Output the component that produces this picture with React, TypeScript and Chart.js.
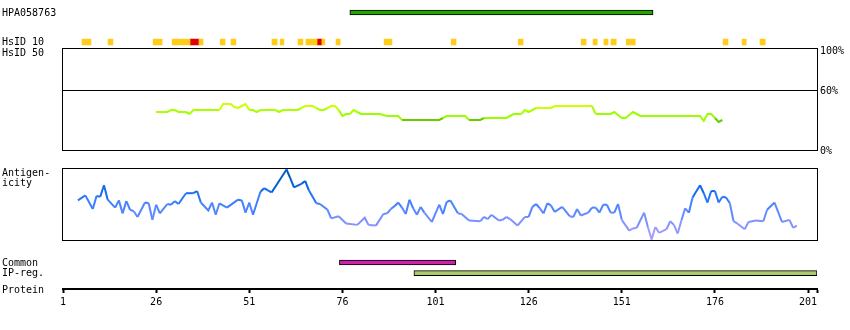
import React, { useEffect, useRef } from 'react';
import { Chart, registerables } from 'chart.js';

Chart.register(...registerables);

const FONT = '"DejaVu Sans Mono", monospace';

// ---- shared residue axis ----
const axisMin = 1;
const axisMax = 203.4;
const tickValues = [1, 26, 51, 76, 101, 126, 151, 176, 201];
const tickLabels = ['1', '26', '51', '76', '101', '126', '151', '176', '201'];

// ---- HPA antigen fragment ----
const hpaRange: [number, number] = [78, 159.4];

// ---- HsID 10 hits (residue ranges) ----
const hsid10Yellow: [number, number][] = [
  [6.1, 8.5], [13.1, 14.4], [25.2, 27.6], [30.3, 35.1], [37.5, 38.6], [43.2, 44.5],
  [46.1, 47.4], [57.1, 58.5], [59.3, 60.3], [64.1, 65.4], [66.2, 69.2], [70.5, 71.3],
  [74.3, 75.4], [87.2, 89.3], [105.2, 106.5], [123.2, 124.5], [140.1, 141.4],
  [143.3, 144.4], [146.2, 147.3], [148.1, 149.5], [152.2, 154.6], [178.2, 179.5],
  [183.3, 184.4], [188.1, 189.5],
];
const hsid10Red: [number, number][] = [[35.1, 37.5], [69.2, 70.5]];

// ---- HsID 50 identity (%) per residue, starting at residue 26 ----
const hsid50Start = 26;
const hsid50Values = [
  38, 38, 38, 38, // 26-29
  40, 40, // 30-31
  38, 38, 38, // 32-34
  36, // 35
  40, 40, 40, 40, 40, 40, 40, 40, // 36-43
  46, 46, 46, // 44-46
  43, 42, 44, 46, // 47-50
  40, 40, // 51-52
  38, // 53
  40, 40, 40, 40, 40, // 54-58
  38, // 59
  40, 40, 40, 40, 40, // 60-64
  42, 44, 44, 44, // 65-68
  42, 40, 40, // 69-71
  42, 44, 44, // 72-74
  40, 34, // 75-76
  36, 36, // 77-78
  40, 38, // 79-80
  36, 36, 36, 36, 36, 36, // 81-86
  35, // 87
  34, 34, 34, 34, // 88-91
  30, 30, 30, 30, 30, 30, 30, 30, 30, 30, 30, // 92-102
  32, // 103
  34, 34, 34, 34, 34, 34, // 104-109
  30, 30, 30, 30, // 110-113
  32, 32, 32, 32, 32, 32, 32, // 114-120
  34, 36, 36, 36, // 121-124
  40, 38, 40, // 125-127
  42, 42, 42, 42, 42, // 128-132
  44, 44, 44, 44, 44, 44, 44, 44, 44, 44, 44, // 133-143
  36, 36, 36, 36, 36, // 144-148
  38, 35, 32, 32, 35, 38, 36, // 149-155
  34, 34, 34, 34, 34, 34, 34, 34, 34, 34, 34, 34, 34, 34, 34, 34, 34, // 156-172
  29, 36, 36, 32, 28, 30, // 173-178
];
const pctTicks = [0, 60, 100];
const pctLabels = ['0%', '60%', '100%'];

// ---- Antigenicity (relative score 0-100) ----
const antigenResidues = [
  5, 7, 9, 10, 11, 12, 13, 15, 16, 17, 18, 19, 20, 21, 23, 24, 25, 26, 27, 29, 30, 31, 32,
  34, 36, 37, 38, 40, 41, 42, 43, 45, 48, 49, 50, 51, 52, 54, 55, 56, 57, 61, 62, 63, 65,
  66, 67, 69, 70, 72, 73, 75, 77, 80, 82, 83, 85, 87, 88, 89, 90, 91, 92, 93, 94, 95, 96,
  97, 98, 100, 102, 103, 104, 105, 107, 108, 110, 113, 114, 115, 116, 118, 119, 120, 121,
  123, 125, 126, 127, 128, 129, 130, 131, 132, 133, 135, 137, 138, 139, 140, 142, 143, 144,
  145, 146, 147, 148, 149, 150, 151, 153, 154, 155, 157, 158, 159, 160, 161, 163, 164, 165,
  166, 167, 168, 169, 170, 172, 173, 174, 175, 176, 177, 178, 179, 180, 181, 182, 184, 185,
  187, 189, 190, 192, 194, 196, 197, 198,
];
const antigenValues = [
  55, 62, 43, 61, 60, 76, 56, 45, 55, 37, 54, 42, 40, 32, 52, 51, 28, 49, 37, 50, 49, 54, 50,
  65, 65, 68, 52, 41, 52, 35, 51, 45, 56, 55, 38, 52, 35, 67, 72, 69, 66, 98, 86, 73, 78,
  82, 69, 51, 50, 42, 30, 33, 23, 21, 31, 21, 20, 36, 37, 43, 47, 52, 45, 36, 56, 44, 35,
  46, 38, 25, 49, 36, 53, 55, 37, 36, 27, 26, 32, 29, 35, 27, 28, 32, 29,
  20, 32, 32, 46, 50, 44, 37, 51, 48, 39, 46, 33, 32, 43, 34, 38, 45, 45,
  38, 49, 49, 38, 38, 50, 28, 13, 16, 17, 38, 18, 1, 18, 10, 15, 26, 21,
  9, 27, 44, 38, 59, 76, 65, 52, 68, 68, 52, 60, 59, 51, 26, 23, 15, 25,
  27, 26, 42, 52, 25, 28, 17, 20,
];

// ---- Common / IP-reg. ----
const commonRange: [number, number] = [75.2, 106.4];
const ipRegRange: [number, number] = [95.2, 203.4];

// ---- colour helpers ----
function hsid50Color(v: number): string {
  if (v <= 31) return '#66cc00';
  if (v < 38) return '#99ff00';
  if (v < 42) return '#aaff00';
  return '#ccff00';
}
const antigenStops: [number, number[]][] = [
  [0, [184, 166, 255]],
  [20, [140, 148, 255]],
  [35, [104, 140, 255]],
  [50, [64, 128, 255]],
  [65, [24, 110, 240]],
  [80, [0, 96, 214]],
  [100, [0, 80, 176]],
];
function antigenColor(v: number): string {
  for (let i = 1; i < antigenStops.length; i++) {
    const [v1, c1] = antigenStops[i];
    const [v0, c0] = antigenStops[i - 1];
    if (v <= v1) {
      const t = Math.max(0, (v - v0) / (v1 - v0));
      const c = c0.map((a, k) => Math.round(a + (c1[k] - a) * t));
      return `rgb(${c[0]},${c[1]},${c[2]})`;
    }
  }
  return 'rgb(0,80,176)';
}

const boxPlugin = {
  id: 'boxFrame',
  beforeDatasetsDraw(chart: any) {
    const { ctx, chartArea: a } = chart;
    ctx.save();
    ctx.strokeStyle = '#000';
    ctx.lineWidth = 1;
    ctx.strokeRect(a.left - 0.5, a.top + 0.5, a.right - a.left + 1, a.bottom - a.top);
    ctx.restore();
  },
};

const hiddenX = { type: 'linear', min: axisMin, max: axisMax, display: false };
const basePlugins = { legend: { display: false }, tooltip: { enabled: false } };

function topConfig(): any {
  return {
    type: 'bar',
    data: {
      labels: ['HPA', 'gap', 'HsID 10'],
      datasets: [
        {
          data: [{ x: hpaRange, y: 'HPA' }],
          backgroundColor: '#22a300', borderColor: '#000', borderWidth: 1,
          borderSkipped: false, barThickness: 5, grouped: false,
        },
        {
          data: hsid10Yellow.map((r) => ({ x: r, y: 'HsID 10' })),
          backgroundColor: '#ffcc1a', borderWidth: 0, barThickness: 6, grouped: false,
        },
        {
          data: hsid10Red.map((r) => ({ x: r, y: 'HsID 10' })),
          backgroundColor: '#dd0000', borderWidth: 0, barThickness: 6, grouped: false,
        },
      ],
    },
    options: {
      indexAxis: 'y', animation: false, responsive: false, events: [],
      layout: { padding: { left: 63, right: 33, top: 5.125, bottom: 280.625 } },
      scales: { x: hiddenX, y: { type: 'category', display: false } },
      plugins: basePlugins,
    },
  };
}

function hsid50Config(): any {
  return {
    type: 'line',
    data: {
      datasets: [
        {
          data: hsid50Values.map((v, i) => ({ x: hsid50Start + i, y: v })),
          borderWidth: 2, pointRadius: 0, tension: 0, borderColor: '#aaff00',
          segment: { borderColor: (c: any) => hsid50Color((c.p0.parsed.y + c.p1.parsed.y) / 2) },
        },
      ],
    },
    options: {
      animation: false, responsive: false, events: [],
      layout: { padding: { left: 63, right: 0, top: 48, bottom: 180 } },
      scales: {
        x: hiddenX,
        y: {
          position: 'right', min: 0, max: 102,
          afterBuildTicks: (s: any) => { s.ticks = pctTicks.map((v) => ({ value: v })); },
          afterFit: (s: any) => { s.width = 33; },
          border: { display: false },
          grid: {
            drawTicks: false, lineWidth: 1,
            color: (c: any) => (c.tick && c.tick.value === 60 ? '#000' : 'rgba(0,0,0,0)'),
          },
          ticks: {
            padding: 3, labelOffset: 1, color: '#000', font: { family: FONT, size: 10 },
            callback: (_v: any, i: number) => pctLabels[i],
          },
        },
      },
      plugins: basePlugins,
    },
    plugins: [boxPlugin],
  };
}

function antigenConfig(): any {
  return {
    type: 'line',
    data: {
      datasets: [
        {
          data: antigenResidues.map((r, i) => ({ x: r, y: antigenValues[i] })),
          borderWidth: 2, pointRadius: 0, tension: 0, borderColor: '#4080ff',
          segment: { borderColor: (c: any) => antigenColor((c.p0.parsed.y + c.p1.parsed.y) / 2) },
        },
      ],
    },
    options: {
      animation: false, responsive: false, events: [],
      layout: { padding: { left: 63, right: 33, top: 168, bottom: 90 } },
      scales: { x: hiddenX, y: { min: 0, max: 100, display: false } },
      plugins: basePlugins,
    },
    plugins: [boxPlugin],
  };
}

function bottomConfig(): any {
  return {
    type: 'bar',
    data: {
      labels: ['Common', 'IP-reg.', 'Protein'],
      datasets: [
        {
          data: [{ x: commonRange, y: 'Common' }],
          backgroundColor: '#cc22aa', borderColor: '#000', borderWidth: 1,
          borderSkipped: false, barThickness: 5, grouped: false,
        },
        {
          data: [{ x: ipRegRange, y: 'IP-reg.' }],
          backgroundColor: '#aacc66', borderColor: '#000', borderWidth: 1,
          borderSkipped: false, barThickness: 5, grouped: false,
        },
      ],
    },
    options: {
      indexAxis: 'y', animation: false, responsive: false, events: [],
      layout: { padding: { left: 63, right: 33, top: 257.2, bottom: 0 } },
      scales: {
        x: {
          type: 'linear', position: 'bottom', min: axisMin, max: axisMax,
          afterBuildTicks: (s: any) => { s.ticks = [...tickValues, axisMax].map((v) => ({ value: v })); },
          afterFit: (s: any) => { s.height = 41; },
          border: { display: true, color: '#000', width: 2 },
          grid: {
            display: true, drawOnChartArea: false, drawTicks: true, tickLength: 4,
            tickWidth: 2, tickColor: '#000', color: '#000',
          },
          ticks: {
            autoSkip: false, maxRotation: 0, minRotation: 0, padding: 3, color: '#000',
            font: { family: FONT, size: 10 },
            callback: (_v: any, i: number) => tickLabels[i] ?? '',
          },
        },
        y: { type: 'category', display: false },
      },
      plugins: basePlugins,
    },
  };
}

const sideLabels: { text: string; top: number; left: number }[] = [
  { text: 'HPA058763', top: 8.2, left: 2 },
  { text: 'HsID 10', top: 37.3, left: 2 },
  { text: 'HsID 50', top: 47.5, left: 2 },
  { text: 'Antigen-', top: 168.1, left: 2 },
  { text: 'icity', top: 178.1, left: 2 },
  { text: 'Common', top: 258.1, left: 2 },
  { text: 'IP-reg.', top: 268.1, left: 2 },
  { text: 'Protein', top: 284.8, left: 2 },
];

export default function App() {
  const r1 = useRef<HTMLCanvasElement>(null);
  const r2 = useRef<HTMLCanvasElement>(null);
  const r3 = useRef<HTMLCanvasElement>(null);
  const r4 = useRef<HTMLCanvasElement>(null);

  useEffect(() => {
    Chart.defaults.font.family = FONT;
    const charts = [
      new Chart(r1.current as HTMLCanvasElement, topConfig()),
      new Chart(r2.current as HTMLCanvasElement, hsid50Config()),
      new Chart(r3.current as HTMLCanvasElement, antigenConfig()),
      new Chart(r4.current as HTMLCanvasElement, bottomConfig()),
    ];
    return () => charts.forEach((c) => c.destroy());
  }, []);

  const canvasStyle: React.CSSProperties = {
    position: 'absolute', left: 0, top: 0, width: 850, height: 330, display: 'block',
  };

  return (
    <div
      style={{
        position: 'absolute', left: 0, top: 0, width: 850, height: 330,
        background: '#fff', fontFamily: FONT, fontSize: 10, lineHeight: '10px', color: '#000',
      }}
    >
      {[r1, r2, r3, r4].map((r, i) => (
        <canvas key={i} ref={r} width={850} height={330} style={canvasStyle} />
      ))}
      {sideLabels.map((l) => (
        <div
          key={l.text}
          style={{ position: 'absolute', left: l.left, top: l.top, whiteSpace: 'pre', lineHeight: '10px' }}
        >
          {l.text}
        </div>
      ))}
    </div>
  );
}
